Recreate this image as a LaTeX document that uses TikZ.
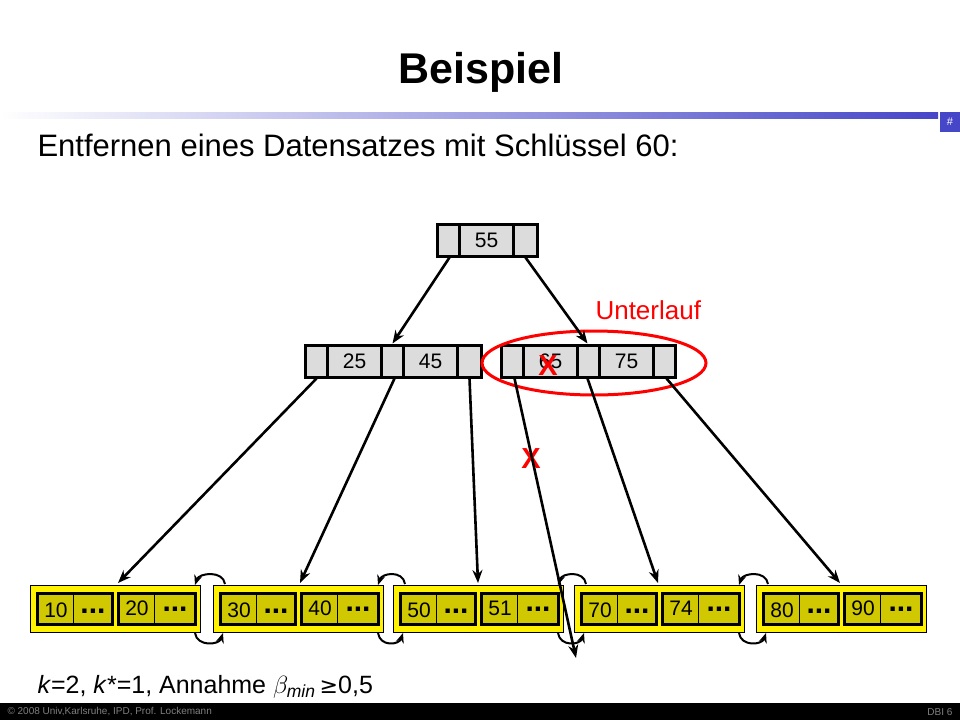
\documentclass[tikz,border=0pt]{standalone}
\usepackage{fontspec}
\setmainfont{Liberation Sans}
\usetikzlibrary{shadings,shapes.geometric,calc,arrows.meta}
\definecolor{olive}{RGB}{208,200,0}
\definecolor{ngray}{RGB}{220,220,220}
\definecolor{bblue}{RGB}{70,70,200}
\tikzset{
 cell/.style={draw=black,line width=3pt,fill=ngray,minimum height=32pt,inner sep=0pt,font=\fontsize{21}{21}\selectfont},
 outer/.style={draw=black,line width=1pt,fill=yellow,minimum height=47pt,minimum width=170pt,inner sep=0pt},
 inner/.style={draw=black,line width=3pt,fill=olive,minimum height=31pt,inner sep=0pt},
 arr/.style={-{Stealth[length=13pt,width=10pt]},line width=2.6pt},
 link/.style={-{Stealth[length=10pt,width=8pt]},line width=2pt},
 redt/.style={text=red,font=\fontsize{26}{26}\selectfont}
}
\newcommand{\myleaf}[4]{% name, x, a, b
 \node[outer,anchor=west] (#1) at (#2,609) {};
 \node[inner,minimum width=75pt,anchor=west] (#1a) at (#2+6,609) {};
 \node[inner,minimum width=77pt,anchor=west] (#1b) at (#2+87,609) {};
 \draw[line width=1pt] ($(#1a.north west)+(37,0)$) -- ($(#1a.south west)+(37,0)$);
 \draw[line width=1pt] ($(#1b.north west)+(37,0)$) -- ($(#1b.south west)+(37,0)$);
 \node[font=\fontsize{21}{21}\selectfont] at ($(#1a.west)+(20,1)$) {#3};
 \node[font=\fontsize{21}{21}\selectfont] at ($(#1b.west)+(20,-1)$) {#4};
 \node[font=\bfseries\fontsize{30}{30}\selectfont] at ($(#1a.west)+(57,2)$) {...};
 \node[font=\bfseries\fontsize{30}{30}\selectfont] at ($(#1b.west)+(58,0)$) {...};
}
\begin{document}
\begin{tikzpicture}[x=1pt,y=-1pt]
\useasboundingbox (0,0) rectangle (960,720);
\fill[white] (0,0) rectangle (960,720);
% header
\node[font=\bfseries\fontsize{43}{43}\selectfont] (title) at (481,72) {Beispiel};
\shade[left color=white,right color=bblue] (0,112) rectangle (938,118);
\node[fill=bblue,minimum size=20pt,inner sep=0pt,text=white,font=\fontsize{11}{11}\selectfont] (num) at (950,122) {\#};
\node[anchor=west,font=\fontsize{31}{31}\selectfont] (sub) at (34,145) {Entfernen eines Datensatzes mit Schlüssel 60:};
% root
\node[cell,minimum width=22pt,anchor=west] (r0) at (436,240) {};
\node[cell,minimum width=54pt,anchor=west] (r1) at (458,240) {55};
\node[cell,minimum width=24pt,anchor=west] (r2) at (512,240) {};
% left middle
\node[cell,minimum width=22pt,anchor=west] (a0) at (304,361) {};
\node[cell,minimum width=54pt,anchor=west] (a1) at (326,361) {25};
\node[cell,minimum width=22pt,anchor=west] (a2) at (380,361) {};
\node[cell,minimum width=54pt,anchor=west] (a3) at (402,361) {45};
\node[cell,minimum width=24pt,anchor=west] (a4) at (456,361) {};
% right middle
\node[cell,minimum width=22pt,anchor=west] (b0) at (500,361) {};
\node[cell,minimum width=54pt,anchor=west] (b1) at (522,361) {65};
\node[cell,minimum width=22pt,anchor=west] (b2) at (576,361) {};
\node[cell,minimum width=54pt,anchor=west] (b3) at (598,361) {75};
\node[cell,minimum width=22pt,anchor=west] (b4) at (652,361) {};
\node[draw=red,line width=3pt,ellipse,minimum width=224pt,minimum height=64pt] (ell) at (594,363) {};
\node[redt,anchor=west] (unter) at (592,310) {Unterlauf};
\node[text=red,font=\bfseries\fontsize{29}{29}\selectfont] (x1) at (548,366) {X};
\node[text=red,font=\bfseries\fontsize{29}{29}\selectfont] (x2) at (531,459) {X};
% leaves
\myleaf{l1}{30}{10}{20}
\myleaf{l2}{213}{30}{40}
\myleaf{l3}{393}{50}{51}
\myleaf{l4}{574}{70}{74}
\myleaf{l5}{756}{80}{90}
% links between leaves
\foreach \p/\q in {l1/l2,l2/l3,l3/l4,l4/l5}{
 \draw[link] ($(\q.north west)+(12,-1)$) .. controls +(-2,-14) and +(4,-12) .. ($(\p.north east)+(-6,0)$);
 \draw[link] ($(\p.south east)+(-6,0)$) .. controls +(2,14) and +(-4,12) .. ($(\q.south west)+(10,0)$);
}
% tree arrows
\draw[arr] ($(r0.south)+(1,0)$) -- (a2.north);
\draw[arr] ($(r2.south)+(0,0)$) -- ($(b2.north)+(-1,0)$);
\draw[arr] ($(a0.south)+(0,0)$) -- ($(l1.north west)+(88,-2)$);
\draw[arr] ($(a2.south)+(2,0)$) -- ($(l2.north west)+(87,-2)$);
\draw[arr] ($(a4.south)+(0,0)$) -- ($(l3.north west)+(85,-2)$);
\coordinate (free) at (576,658);
\draw[arr] ($(b0.south)+(2,0)$) -- (free);
\draw[arr] ($(b2.south)+(-1,0)$) -- ($(l4.north west)+(84,-2)$);
\draw[arr] ($(b4.south)+(2,0)$) -- ($(l5.north west)+(84,-2)$);
% bottom text
\node[anchor=west,font=\fontsize{25}{25}\selectfont] (cond) at (34,687) {\textit{k}=2, \textit{k}*=1, Annahme $\beta_{\mathit{min}}$\,{\fontspec{DejaVu Sans}\fontsize{22}{22}\selectfont≥}0,5};
\fill[black] (0,703) rectangle (960,720);
\node[anchor=west,text=gray,font=\fontsize{10}{10}\selectfont] (foot1) at (4,712) {© 2008 Univ,Karlsruhe, IPD, Prof. Lockemann};
\node[anchor=east,text=gray,font=\fontsize{10}{10}\selectfont] (foot2) at (956,712) {DBI 6};
\end{tikzpicture}
\end{document}
